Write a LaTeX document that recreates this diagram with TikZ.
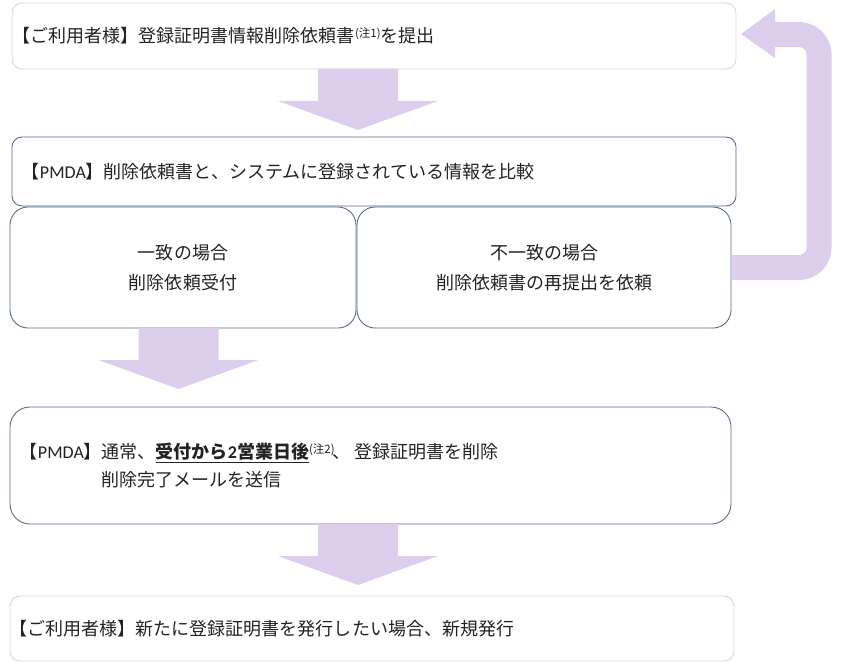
\documentclass[tikz,border=0pt]{standalone}
\usepackage{fontspec}
\setmainfont{Noto Sans CJK JP}
\newfontfamily\lat{Carlito}
\definecolor{arrowfill}{RGB}{221,206,238}
\definecolor{pinkline}{RGB}{228,208,220}
\definecolor{blueline}{RGB}{88,108,142}
\definecolor{txt}{RGB}{35,35,35}
\newcommand\notesup[1]{\raisebox{5.5bp}{\fontsize{11.5bp}{12bp}\selectfont #1}}
\begin{document}
\begin{tikzpicture}[x=1bp,y=-1bp,
  font=\fontsize{18bp}{21bp}\selectfont, text=txt,
  box/.style={draw=blueline, line width=0.9bp, fill=white, rounded corners=10bp,
    inner ysep=0bp, outer sep=0bp, align=left},
  userbox/.style={box, draw=pinkline},
  pics/bigdown/.style={code={
    \fill[arrowfill] (-40,0) -- (40,0) -- (40,32) -- (80,32) -- (0,61) -- (-80,32) -- (-40,32) -- cycle;}}]
\useasboundingbox (0,0) rectangle (848,670);

\node[userbox, minimum width=724bp, minimum height=66bp, inner xsep=1bp, text width=722bp]
  (top) at (374,36) {【ご利用者様】登録証明書情報削除依頼書\notesup{(注1)}を提出};

\node[box, minimum width=724bp, minimum height=69bp, inner xsep=10bp, text width=704bp]
  (cmp) at (374,171.5) {【{\lat PMDA}】削除依頼書と、システムに登録されている情報を比較};

\node[box, rounded corners=18bp, minimum width=346bp, minimum height=121bp, inner xsep=8bp,
  text width=330bp, align=center, font=\fontsize{18bp}{30bp}\selectfont]
  (ok) at (183,267.5) {一致の場合\\削除依頼受付};

\node[box, rounded corners=18bp, minimum width=374bp, minimum height=121bp, inner xsep=8bp,
  text width=358bp, align=center, font=\fontsize{18bp}{30bp}\selectfont]
  (ng) at (544,267.5) {不一致の場合\\削除依頼書の再提出を依頼};

\node[box, rounded corners=20bp, minimum width=721bp, minimum height=117bp, inner xsep=10bp,
  text width=701bp, font=\fontsize{18bp}{28bp}\selectfont]
  (del) at (370.5,465.5) {【{\lat PMDA}】通常、\underline{\bfseries 受付から{\lat 2}営業日後}\notesup{(注2)}\hspace{-2bp}、\hspace{4bp}登録証明書を削除\\
  \hphantom{【{\lat PMDA}】}削除完了メールを送信};

\node[userbox, minimum width=724bp, minimum height=65bp, inner xsep=0bp, text width=724bp]
  (new) at (372,628.5) {【ご利用者様】新たに登録証明書を発行したい場合、新規発行};

% block arrows
\path (top.south) ++(-16,0) pic {bigdown};
\path (ok.south) ++(-4.5,0) pic {bigdown};
\path (del.south) ++(-12.5,0) pic {bigdown};

% return arrow
\draw[arrowfill, line width=25bp, rounded corners=20bp]
  ([xshift=0.5bp]ng.east) -- ++(87.5,0) |- ([shift={(38,-1.5)}]top.east);
\fill[arrowfill] ([shift={(39,-27)}]top.east) -- ([shift={(5,-2)}]top.east)
  -- ([shift={(39,22)}]top.east) -- cycle;
\end{tikzpicture}
\end{document}
